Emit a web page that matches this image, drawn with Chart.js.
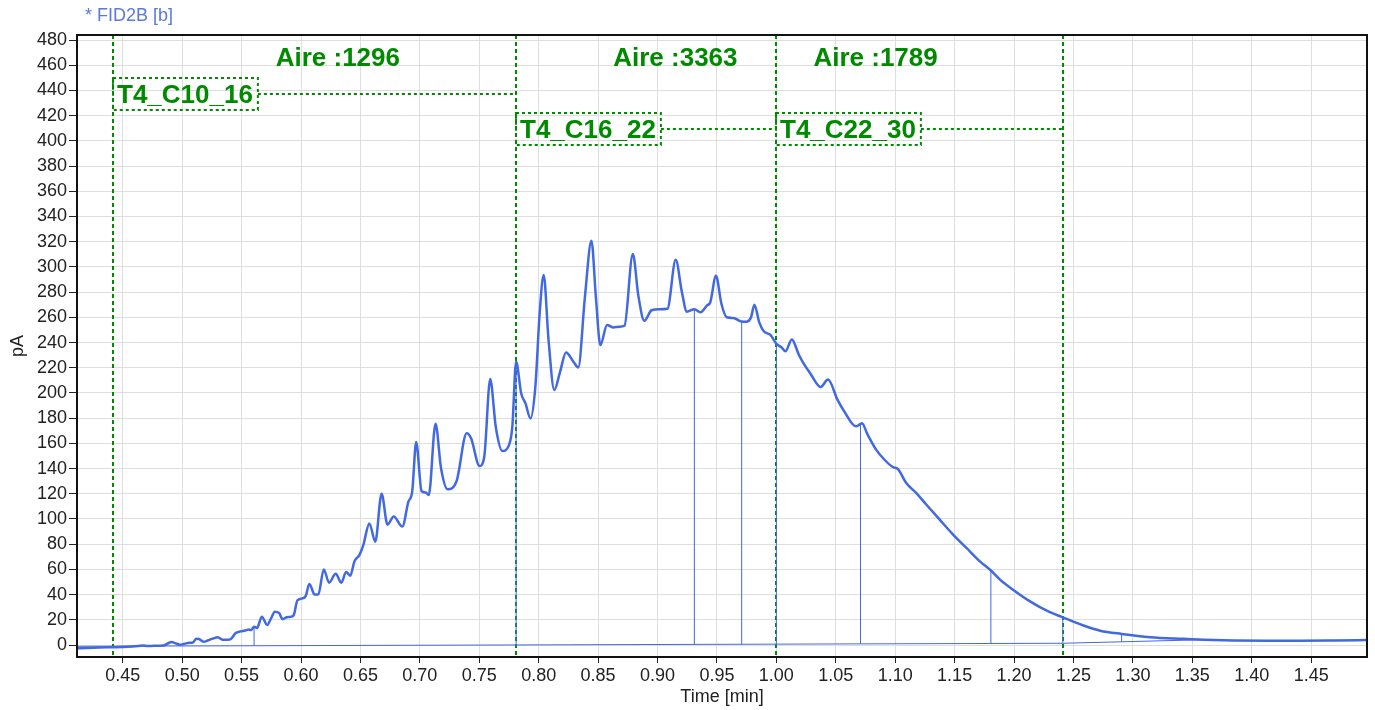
<!DOCTYPE html>
<html>
<head>
<meta charset="utf-8">
<title>FID2B</title>
<script src="https://cdn.jsdelivr.net/npm/chart.js@4.4.1/dist/chart.umd.min.js"></script>
<style>
  html, body { margin: 0; padding: 0; background: #fff; }
  #wrap { width: 1375px; height: 710px; }
</style>
</head>
<body>
<div id="wrap"><canvas id="chart" width="1375" height="710"></canvas></div>
<script>
// FID signal, time [min] / pA
const signalTime = [
  0.4115, 0.420, 0.430, 0.440, 0.450, 0.458, 0.463, 0.467, 0.471, 0.476,
  0.481, 0.485, 0.489, 0.491, 0.494, 0.498, 0.502, 0.506, 0.509, 0.512,
  0.514, 0.518, 0.522, 0.526, 0.530, 0.534, 0.538, 0.541, 0.545, 0.549,
  0.553, 0.556, 0.558, 0.5605, 0.563, 0.567, 0.5715, 0.5745, 0.578, 0.5815,
  0.5845, 0.588, 0.592, 0.594, 0.597, 0.601, 0.604, 0.607, 0.6115, 0.6145,
  0.6192, 0.6236, 0.6292, 0.6339, 0.638, 0.6414, 0.645, 0.6492, 0.6525, 0.6575,
  0.6625, 0.6678, 0.6728, 0.678, 0.6853, 0.6903, 0.6936, 0.6969, 0.7015, 0.705,
  0.7075, 0.7132, 0.7178, 0.7234, 0.7309, 0.7394, 0.7431, 0.7502, 0.7542, 0.7592,
  0.7639, 0.7694, 0.775, 0.7778, 0.781, 0.7853, 0.7889, 0.7931, 0.7972, 0.8008,
  0.8042, 0.8083, 0.8131, 0.818, 0.823, 0.8292, 0.8333, 0.8389, 0.8444, 0.8481,
  0.8519, 0.8575, 0.8625, 0.868, 0.8722, 0.8792, 0.8839, 0.8889, 0.895, 0.9014,
  0.9083, 0.9153, 0.9205, 0.9247, 0.931, 0.9361, 0.9417, 0.9444, 0.9492, 0.9537,
  0.9583, 0.9639, 0.9694, 0.9708, 0.975, 0.9787, 0.9815, 0.9856, 0.9894, 0.995,
  1.000, 1.0042, 1.0076, 1.013, 1.0188, 1.023, 1.0287, 1.0373, 1.0435, 1.0514,
  1.0571, 1.0669, 1.0708, 1.072, 1.0768, 1.0839, 1.091, 1.098, 1.1023, 1.1093,
  1.1178, 1.1263, 1.1376, 1.1489, 1.1602, 1.1715, 1.1805, 1.1884, 1.1997, 1.2138,
  1.228, 1.241, 1.2584, 1.2725, 1.2905, 1.3146, 1.3427, 1.36, 1.3848, 1.413,
  1.441, 1.470, 1.497
];
const signalPA = [
  -2.6, -2.3, -2.0, -1.8, -1.6, -1.2, -0.8, -0.3, -0.8, -0.6,
  -0.5, -0.2, 1.8, 2.4, 1.5, 0.3, 1.0, 1.8, 2.0, 5.0,
  4.8, 2.6, 3.8, 5.2, 6.2, 4.2, 4.1, 4.8, 9.5, 10.8,
  11.5, 12.3, 11.8, 14.5, 13.5, 22.5, 15.9, 20.5, 26.5, 25.5,
  20.5, 22.0, 22.5, 24.0, 35.5, 37.0, 39.0, 48.5, 40.0, 40.0,
  60.0, 49.5, 56.5, 49.5, 58.0, 55.0, 66.5, 71.5, 79.5, 96.5,
  82.0, 120.0, 95.5, 102.0, 94.0, 113.5, 122.0, 161.0, 122.0, 121.0,
  119.0, 175.5, 140.5, 123.5, 130.0, 168.0, 164.0, 142.0, 149.4, 211.0,
  173.0, 154.0, 158.6, 173.0, 224.7, 199.6, 191.7, 179.8, 205.0, 263.0,
  293.5, 242.0, 202.3, 216.8, 232.0, 224.8, 220.2, 276.3, 320.8, 276.3,
  238.0, 254.0, 252.0, 252.5, 253.3, 310.3, 276.9, 257.2, 265.6, 266.4,
  266.8, 305.6, 280.0, 264.5, 266.4, 264.0, 269.5, 272.0, 293.0, 271.0,
  260.0, 259.5, 257.0, 256.7, 256.5, 260.0, 270.0, 256.0, 249.0, 246.0,
  239.0, 236.3, 233.0, 242.5, 230.5, 223.2, 215.3, 204.8, 210.6, 194.7,
  185.4, 173.5, 175.5, 176.0, 166.9, 155.0, 147.0, 141.2, 139.6, 128.5,
  120.5, 111.3, 99.3, 87.4, 76.8, 66.2, 59.1, 51.7, 43.5, 34.4,
  27.0, 22.0, 15.5, 11.4, 8.8, 6.2, 4.9, 4.2, 3.6, 3.4,
  3.4, 3.6, 3.9
];

// integration baseline
const baseTime = [0.4115, 1.241, 1.36];
const basePA = [-1.0, 1.4, 4.2];

// peak drop lines (baseline -> signal)
const dropTime = [0.5605, 0.781, 0.931, 0.9708, 1.000, 1.0708, 1.1805, 1.241, 1.2905, 1.36];
const dropBase = [-0.6, 0.0, 0.4, 0.5, 0.6, 0.8, 1.1, 1.4, 2.5, 4.2];
const dropTop = [14.5, 224.7, 266.4, 256.7, 239.0, 175.5, 59.1, 22.0, 8.8, 4.2];

// group events and areas
const eventTime = [0.442, 0.781, 1.000, 1.241];
const groupName = ['T4_C10_16', 'T4_C16_22', 'T4_C22_30'];
const groupLabelPA = [437, 409.5, 409.5];
const groupArea = [1296, 3363, 1789];
const areaLabelTime = [0.631, 0.915, 1.0835];
const areaLabelPA = 465;

const xTicks = [0.45, 0.50, 0.55, 0.60, 0.65, 0.70, 0.75, 0.80, 0.85, 0.90, 0.95,
  1.00, 1.05, 1.10, 1.15, 1.20, 1.25, 1.30, 1.35, 1.40, 1.45];
const yTicks = [0, 20, 40, 60, 80, 100, 120, 140, 160, 180, 200, 220, 240,
  260, 280, 300, 320, 340, 360, 380, 400, 420, 440, 460, 480];

const BLUE = 'rgb(65, 105, 225)';
const GREEN = '#008a00';
const FONT = "'Liberation Sans', Arial, sans-serif";

const signalPts = signalTime.map((t, i) => ({x: t, y: signalPA[i]}));
const basePts = baseTime.map((t, i) => ({x: t, y: basePA[i]}));
const dropPts = [];
dropTime.forEach((t, i) => {
  dropPts.push({x: t, y: dropBase[i]}, {x: t, y: dropTop[i]}, {x: t, y: null});
});

const annotations = {
  id: 'annotations',
  beforeDatasetsDraw(chart) {
    const {ctx, chartArea: a, scales: {x}} = chart;
    ctx.save();
    ctx.strokeStyle = GREEN;
    ctx.lineWidth = 2;
    ctx.setLineDash([4, 3]);
    eventTime.forEach(t => {
      const px = Math.round(x.getPixelForValue(t));
      ctx.beginPath();
      ctx.moveTo(px, a.top);
      ctx.lineTo(px, a.bottom);
      ctx.stroke();
    });
    ctx.restore();
  },
  afterDatasetsDraw(chart) {
    const {ctx, scales: {x, y}} = chart;
    ctx.save();
    ctx.fillStyle = GREEN;
    ctx.strokeStyle = GREEN;

    // area labels
    ctx.font = 'bold 26px ' + FONT;
    ctx.textAlign = 'center';
    ctx.textBaseline = 'middle';
    groupArea.forEach((v, i) => {
      ctx.fillText('Aire :' + v, x.getPixelForValue(areaLabelTime[i]), y.getPixelForValue(areaLabelPA));
    });

    // group name boxes with dotted leaders to the next event
    ctx.textAlign = 'left';
    groupName.forEach((name, i) => {
      const left = Math.round(x.getPixelForValue(eventTime[i]));
      const next = Math.round(x.getPixelForValue(eventTime[i + 1]));
      const cy = Math.round(y.getPixelForValue(groupLabelPA[i]));
      const w = ctx.measureText(name).width + 9;
      ctx.lineWidth = 2;
      ctx.setLineDash([3, 3]);
      ctx.strokeRect(left, cy - 16, w, 32);
      ctx.beginPath();
      ctx.moveTo(left + w, cy);
      ctx.lineTo(next, cy);
      ctx.stroke();
      ctx.setLineDash([]);
      ctx.fillText(name, left + 4, cy + 2);
    });
    ctx.restore();
  },
  afterDraw(chart) {
    const {ctx, chartArea: a} = chart;
    ctx.save();
    ctx.strokeStyle = '#111';
    ctx.lineWidth = 2;
    ctx.strokeRect(a.left, a.top, a.right - a.left, a.bottom - a.top);
    ctx.fillStyle = '#5a78e0';
    ctx.font = '18px ' + FONT;
    ctx.textAlign = 'left';
    ctx.textBaseline = 'middle';
    ctx.fillText('* FID2B [b]', 85, 16);
    ctx.restore();
  }
};

new Chart(document.getElementById('chart'), {
  type: 'scatter',
  data: {
    datasets: [
      {
        label: 'baseline',
        data: basePts,
        showLine: true,
        borderColor: BLUE,
        borderWidth: 1,
        pointRadius: 0,
        tension: 0
      },
      {
        label: 'drops',
        data: dropPts,
        showLine: true,
        spanGaps: false,
        borderColor: BLUE,
        borderWidth: 1,
        pointRadius: 0,
        tension: 0
      },
      {
        label: 'FID2B',
        data: signalPts,
        showLine: true,
        borderColor: BLUE,
        borderWidth: 2.5,
        pointRadius: 0,
        cubicInterpolationMode: 'monotone'
      }
    ]
  },
  options: {
    responsive: false,
    animation: false,
    layout: {padding: {top: 35, right: 8, left: 0, bottom: 0}},
    plugins: {legend: {display: false}, tooltip: {enabled: false}},
    scales: {
      x: {
        type: 'linear',
        min: 0.4115,
        max: 1.497,
        afterBuildTicks: s => { s.ticks = xTicks.map(v => ({value: v})); },
        afterFit: s => { s.height = 53; },
        grid: {color: '#dedede', tickColor: '#222', tickLength: 6, lineWidth: 1},
        border: {display: true, color: '#111', width: 2},
        ticks: {
          color: '#222',
          padding: 2,
          maxRotation: 0,
          autoSkip: false,
          font: {family: FONT, size: 18},
          callback: v => v.toFixed(2)
        },
        title: {
          display: true,
          text: 'Time [min]',
          color: '#222',
          font: {family: FONT, size: 18},
          padding: {top: 0, bottom: 2}
        }
      },
      y: {
        type: 'linear',
        min: -9.5,
        max: 484,
        afterBuildTicks: s => { s.ticks = yTicks.map(v => ({value: v})); },
        afterFit: s => { s.width = 77; },
        grid: {color: '#dedede', tickColor: '#222', tickLength: 8, lineWidth: 1},
        border: {display: true, color: '#111', width: 2},
        ticks: {
          color: '#222',
          padding: 2,
          autoSkip: false,
          font: {family: FONT, size: 18}
        },
        title: {
          display: true,
          text: 'pA',
          color: '#222',
          font: {family: FONT, size: 18},
          padding: {top: 7, bottom: 0}
        }
      }
    }
  },
  plugins: [annotations]
});
</script>
</body>
</html>
